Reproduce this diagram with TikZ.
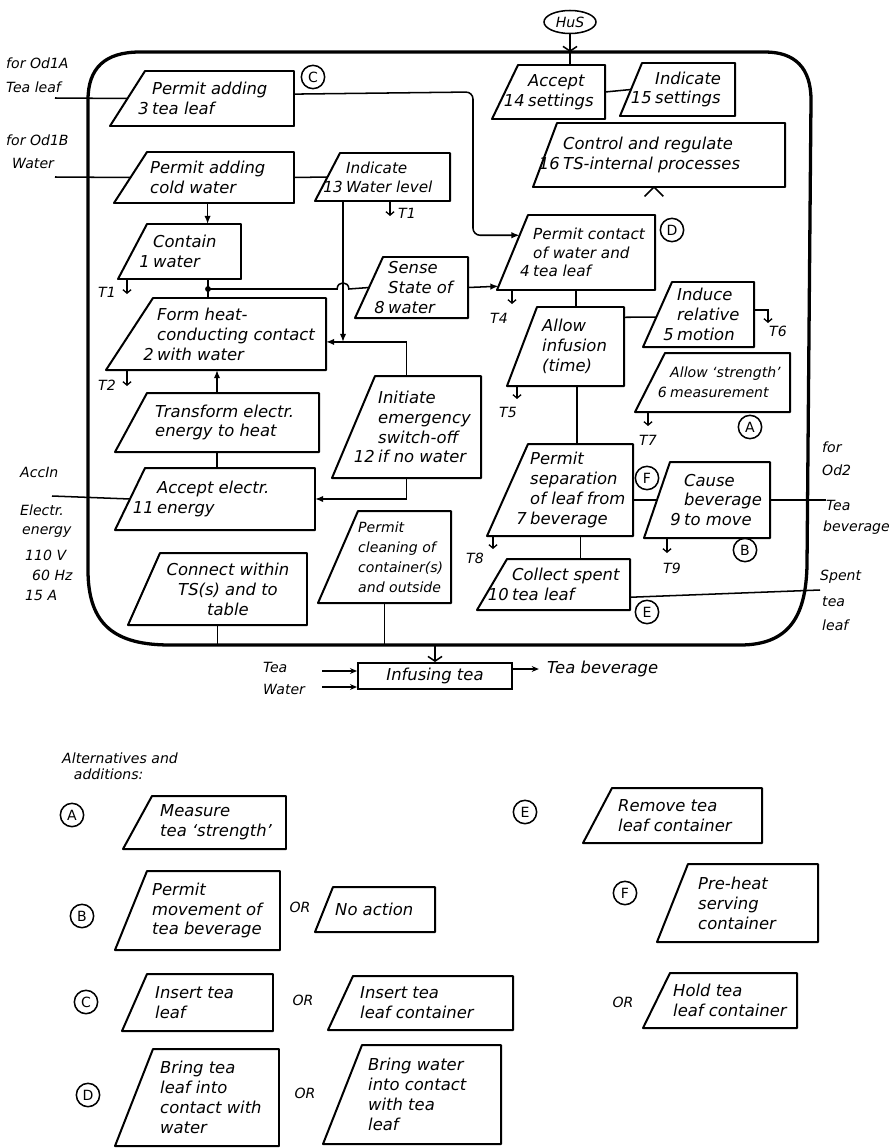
\documentclass[tikz,border=0pt]{standalone}
\usepackage{fontspec}
\setmainfont{DejaVu Sans}
\usetikzlibrary{arrows.meta,calc,fit,shapes.geometric}

% number hanging to the left of a box line
\newcommand\nr[1]{\llap{#1\hspace{3pt}}}
% process box with slanted left side:
% [text opts]{name}{x bottom-left}{x top-left}{x right}{y top}{y bottom}{x text}{text}
\newcommand\procbox[9][]{%
  \coordinate (#2-bl) at (#3,#7);
  \coordinate (#2-tl) at (#4,#6);
  \coordinate (#2-w) at ({(#3+#4)/2},{(#6+#7)/2});
  \node[boxarea, fit={(#3,#6) (#5,#7)}] (#2) {};
  \draw[boxline] (#2-bl) -- (#2-tl) -- (#2.north east) -- (#2.south east) -- cycle;
  \node[boxtext, #1] (#2-t) at (#8,{(#6+#7)/2}) {#9};
}

\begin{document}
\begin{tikzpicture}[x=0.03cm, y=-0.03cm,
  boxline/.style={line width=1.7pt, line join=round},
  boxarea/.style={draw=none, inner sep=0pt, outer sep=0pt},
  boxtext/.style={anchor=west, align=left, inner sep=0pt, font=\itshape\fontsize{14}{17}\selectfont},
  md/.style={font=\itshape\fontsize{13}{16}\selectfont},
  sm/.style={font=\itshape\fontsize{12}{17}\selectfont},
  ctr/.style={anchor=center, align=center},
  conn/.style={line width=1.3pt},
  arr/.style={conn, -{Latex[length=7pt,width=5.5pt]}},
  barb/.style={-{Straight Barb[length=4pt,width=12pt]}},
  tarr/.style={line width=1.1pt, -{Straight Barb[length=3pt,width=7pt]}},
  lbl/.style={inner sep=0pt, anchor=west, font=\itshape\fontsize{12}{14}\selectfont},
  tlbl/.style={inner sep=0pt, font=\itshape\fontsize{12}{14}\selectfont},
  letter/.style={circle, draw, line width=1.3pt, minimum size=0.7cm, inner sep=0pt, font=\fontsize{12}{13}\selectfont},
]
\useasboundingbox (0,0) rectangle (890,1148);

% ---------- system boundary ----------
\draw[line width=2.8pt, line join=round]
  (88,100) -- (88,570) .. controls (88,625) and (115,645) .. (170,645)
  -- (740,645) .. controls (790,645) and (806,615) .. (807,565)
  -- (811,100) .. controls (811,68) and (795,52) .. (765,52)
  -- (140,52) .. controls (105,52) and (88,68) .. (88,100) -- cycle;
\coordinate (bTop) at (570,52);
\coordinate (bBot) at (435,645);

% ---------- human system ----------
\node[draw, ellipse, line width=1.3pt, minimum width=1.56cm, minimum height=0.69cm, inner sep=0pt,
      font=\itshape\fontsize{12}{14}\selectfont] (hus) at (570,22) {HuS};

% ---------- process boxes ----------
\procbox{n3}{110}{145}{294}{71}{126}{152}{Permit adding\\\nr{3}tea leaf}
\procbox{cw}{114}{147}{294}{152}{203}{150}{Permit adding\\cold water}
\procbox[md]{n13}{315}{340}{450}{153}{201}{346}{Indicate\\\nr{13}Water level}
\procbox{n1}{118}{147}{241}{224}{279}{153}{Contain\\\nr{1}water}
\procbox{n2}{106}{153}{326}{298}{370}{157}{Form heat-\\conducting contact\\\nr{2}with water}
\procbox{ntr}{115}{147}{319}{393}{452}{155}{Transform electr.\\energy to heat}
\procbox{n11}{115}{145}{315}{468}{530}{157}{Accept electr.\\\nr{11}energy}
\procbox{n8}{355}{383}{468}{257}{318}{388}{Sense\\State of\\\nr{8}water}
\procbox{n12}{332}{375}{481}{376}{478}{378}{Initiate\\emergency\\switch-off\\\nr{12}if no water}
\procbox[md]{n4}{497}{528}{655}{215}{290}{533}{Permit contact\\of water and\\\nr{4}tea leaf}
\procbox{ninf}{507}{537}{624}{307}{386}{542}{Allow\\infusion\\(time)}
\procbox{n5}{643}{672}{754}{282}{347}{677}{Induce\\relative\\\nr{5}motion}
\procbox[sm]{n6}{635}{665}{790}{353}{412}{670}{Allow `strength'\\\nr{6}measurement}
\procbox{n7}{487}{528}{633}{444}{536}{530}{Permit\\separation\\of leaf from\\\nr{7}beverage}
\procbox{n9}{644}{670}{770}{462}{538}{684}{Cause\\beverage\\\nr{9}to move}
\procbox{n10}{477}{507}{630}{559}{610}{512}{Collect spent\\\nr{10}tea leaf}
\procbox[sm]{ncl}{318}{358}{451}{511}{603}{358}{Permit\\cleaning of\\container(s)\\and outside}
\procbox[ctr]{ncon}{128}{160}{307}{553}{625}{228}{Connect within\\TS(s) and to\\table}
\procbox{n14}{492}{518}{605}{65}{119}{528}{Accept\\\nr{14}settings}
\procbox{n15}{620}{642}{735}{63}{116}{655}{Indicate\\\nr{15}settings}
\procbox{n16}{533}{557}{785}{123}{187}{563}{Control and regulate\\\nr{16}TS-internal processes}

% ---------- letter markers ----------
\node[letter] (cC) at (313,77) {C};
\node[letter] (cD) at (672,230) {D};
\node[letter] (cA) at (750,427) {A};
\node[letter] (cF) at (647,478) {F};
\node[letter] (cB) at (745,550) {B};
\node[letter] (cE) at (647,612) {E};

% ---------- inputs and outputs across the boundary ----------
\node[lbl] (lOdA) at (6,63) {for Od1A};
\node[lbl] (lTeaLeaf) at (6,87) {Tea leaf};
\coordinate (inA) at (55,98);
\draw[conn] (inA) -- (n3-w);

\node[lbl] (lOdB) at (6,140) {for Od1B};
\node[lbl] (lWaterB) at (12,163) {Water};
\coordinate (inB) at (55,177);
\draw[conn] (inB) -- (cw-w);

\node[lbl] (lAccIn) at (20,472) {AccIn};
\node[lbl] (lEl1) at (20,510) {Electr.};
\node[lbl] (lEl2) at (22,532) {energy};
\node[lbl] (lEl3) at (25,555) {110 V};
\node[lbl] (lEl4) at (32,575) {60 Hz};
\node[lbl] (lEl5) at (25,595) {15 A};
\coordinate (inE) at (52,496);
\draw[conn] (inE) -- (n11-w);

\node[lbl] (lFor2) at (822,447) {for};
\node[lbl] (lOd2) at (822,470) {Od2};
\node[lbl] (lTeaB) at (826,505) {Tea};
\node[lbl] (lBev) at (823,528) {beverage};
\coordinate (outT) at (826,497);
\draw[conn] (n9.east) -- (n9.east -| outT);

\node[lbl] (lSp1) at (820,577) {Spent};
\node[lbl] (lSp2) at (822,602) {tea};
\node[lbl] (lSp3) at (822,625) {leaf};
\coordinate (outS) at (820,590);
\coordinate (n10r) at ($(n10.north east)!0.75!(n10.south east)$);
\draw[conn] (n10r) -- (outS);

% ---------- settings ----------
\draw[conn, barb] (hus.south) -- (hus.south |- bTop);
\draw[conn] (hus.south |- bTop) -- (hus.south |- n14.north);
\draw[conn] (n14.east) -- (n15-w);
\coordinate (ctl) at ($(n16.south west)!0.48!(n16.south east)$);
\draw[conn, line join=round] ([shift={(-8pt,-8pt)}]ctl) -- (ctl) -- ([shift={(8pt,-8pt)}]ctl);

% ---------- internal connectors ----------
\coordinate (n3r) at ($(n3.north east)!0.42!(n3.south east)$);
\coordinate (kC) at (473,92);
\coordinate (n4in) at ($(n4-bl)!0.73!(n4-tl)$);
\draw[arr, rounded corners=6pt] (n3r) -- (kC) -- (kC |- n4in) -- (n4in);

\draw[conn] (cw.east) -- (n13-w);
\coordinate (cwb) at ($(cw.south west)!0.52!(cw.south east)$);
\draw[arr] (cwb) -- (cwb |- n1.north);

\coordinate (dot) at (208,289);
\draw[conn] (dot |- n1.south) -- (dot |- n2.north);
\fill (dot) circle[radius=2.5pt];

\coordinate (j1) at (343,342);
\coordinate (hop) at (j1 |- dot);
\draw[conn] (dot) -- ([xshift=-5pt]hop)
  .. controls ([shift={(-5pt,7pt)}]hop) and ([shift={(5pt,7pt)}]hop) .. ([xshift=5pt]hop)
  -- (n8-w);
\draw[arr] (j1 |- n13.south) -- (j1);
\coordinate (n2e) at ($(n2.north east)!0.61!(n2.south east)$);
\draw[arr] (n12.north) |- (n2e);

\coordinate (n4in2) at ($(n4-bl)!0.05!(n4-tl)$);
\draw[arr] (n8.east) -- (n4in2);
\draw[conn] (n4.south) -- (n4.south |- ninf.north);
\coordinate (infR) at ($(ninf.north east)!0.13!(ninf.south east)$);
\coordinate (n5in) at ($(n5-tl)!0.54!(n5-bl)$);
\draw[conn] (infR) -- (n5in);
\coordinate (infB) at ($(ninf.south east)!0.4!(ninf.south west)$);
\draw[conn] (infB) -- (infB |- n7.north);
\draw[conn] (n9-w -| n7.east) -- (n9-w);
\coordinate (n7b) at ($(n7.south west)!0.64!(n7.south east)$);
\draw[conn] (n7b) -- (n7b |- n10.north);

\draw[arr] (ntr.north) -- (ntr.north |- n2.south);
\draw[conn] (ntr.south) -- (ntr.south |- n11.north);
\draw[arr] (n12.south) |- (n11.east);

\draw[conn] (ncl.south) -- (ncl.south |- bBot);
\draw[conn] (ncon.south) -- (ncon.south |- bBot);

% ---------- T marks ----------
\coordinate (t1a) at (390,216);
\draw[tarr] (t1a |- n13.south) -- (t1a);
\node[tlbl, anchor=west] (t1al) at (398,213) {T1};
\coordinate (t1b) at (127,294);
\draw[tarr] (t1b |- n1.south) -- (t1b);
\node[tlbl, anchor=east] (t1bl) at (116,292) {T1};
\coordinate (t2) at (127,386);
\draw[tarr] (t2 |- n2.south) -- (t2);
\node[tlbl, anchor=east] (t2l) at (116,385) {T2};
\coordinate (t4) at (512,304);
\draw[tarr] (t4 |- n4.south) -- (t4);
\node[tlbl] (t4l) at (499,318) {T4};
\coordinate (t5) at (517,399);
\draw[tarr] (t5 |- ninf.south) -- (t5);
\node[tlbl] (t5l) at (508,412) {T5};
\coordinate (t6s) at ($(n5.north east)!0.43!(n5.south east)$);
\coordinate (t6) at (768,323);
\draw[tarr] (t6s) -| (t6);
\node[tlbl] (t6l) at (778,331) {T6};
\coordinate (t7) at (648,426);
\draw[tarr] (t7 |- n6.south) -- (t7);
\node[tlbl] (t7l) at (648,440) {T7};
\coordinate (t8) at (493,549);
\draw[tarr] (t8 |- n7.south) -- (t8);
\node[tlbl] (t8l) at (475,558) {T8};
\coordinate (t9) at (667,553);
\draw[tarr] (t9 |- n9.south) -- (t9);
\node[tlbl] (t9l) at (672,568) {T9};

% ---------- overall function ----------
\node[draw, line width=1.7pt, minimum width=4.62cm, minimum height=0.78cm, inner sep=0pt,
      font=\itshape\fontsize{14}{17}\selectfont] (inf) at (435,676) {Infusing tea};
\draw[conn, barb] (inf.north |- bBot) -- (inf.north);
\node[lbl] (lTeaIn) at (263,667) {Tea};
\node[lbl] (lWatIn) at (263,689) {Water};
\coordinate (tin) at (322,671);
\coordinate (win) at (322,687);
\draw[conn, -{Stealth[length=6pt,width=5pt]}] (tin) -- (tin -| inf.west);
\draw[conn, -{Stealth[length=6pt,width=5pt]}] (win) -- (win -| inf.west);
\node[inner sep=0pt, anchor=west, font=\itshape\fontsize{14}{17}\selectfont] (tbev) at (547,669) {Tea beverage};
\draw[conn, -{Stealth[length=6pt,width=5pt]}] (inf.east |- tbev.west) -- ([xshift=-7pt]tbev.west);

% ---------- alternatives and additions ----------
\node[lbl, align=left] (alt) at (62,766) {Alternatives and\\\hspace{10pt}additions:};

\node[letter] (aCA) at (72,815) {A};
\procbox{aA}{123}{152}{286}{796}{849}{160}{Measure\\tea `strength'}
\node[letter] (aCE) at (525,812) {E};
\procbox{aE}{583}{612}{762}{788}{843}{618}{Remove tea\\leaf container}

\node[letter] (aCB) at (82,916) {B};
\procbox{aB}{115}{147}{280}{871}{950}{152}{Permit\\movement of\\tea beverage}
\node[tlbl] (orB) at (300,907) {OR};
\procbox{aNo}{315}{333}{435}{887}{932}{335}{No action}
\node[letter] (aCF) at (625,893) {F};
\procbox{aF}{657}{688}{818}{864}{942}{698}{Pre-heat\\serving\\container}

\node[letter] (aCC) at (86,1002) {C};
\procbox{aC1}{122}{147}{273}{974}{1031}{155}{Insert tea\\leaf}
\node[tlbl] (orC) at (303,1000) {OR};
\procbox{aC2}{328}{353}{513}{976}{1030}{360}{Insert tea\\leaf container}
\node[tlbl] (orH) at (623,1002) {OR};
\procbox{aH}{643}{670}{797}{973}{1028}{673}{Hold tea\\leaf container}

\node[letter] (aCD) at (88,1095) {D};
\procbox{aD1}{115}{153}{279}{1049}{1146}{160}{Bring tea\\leaf into\\contact with\\water}
\node[tlbl] (orD) at (305,1093) {OR};
\procbox{aD2}{323}{362}{501}{1045}{1144}{368}{Bring water\\into contact\\with tea\\leaf}
\end{tikzpicture}
\end{document}
